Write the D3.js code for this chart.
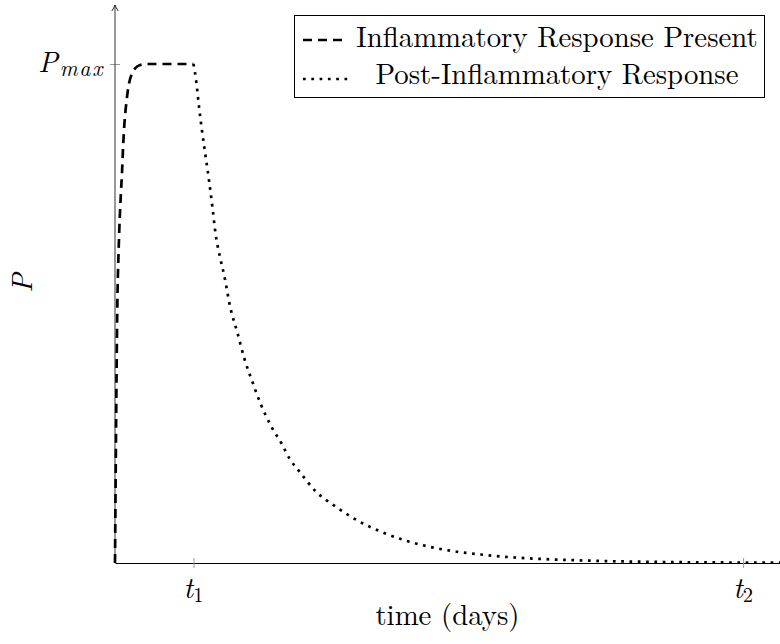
<!DOCTYPE html>
<html><head><meta charset="utf-8">
<script src="https://cdn.jsdelivr.net/npm/d3@7"></script>
<style>body{margin:0;background:#fff}svg{display:block}</style>
</head><body><svg id="c" width="780" height="644"></svg>
<script>
// ---- data (P as a fraction of P_max, t in units where t1 = 1) ----
const xTickValues = [1, 8];
const xTickSubs = ["1", "2"];
const yTickValues = [1];
const yTickSub = "max";
const seriesNames = ["Inflammatory Response Present", "Post-Inflammatory Response"];
const inflamT = [0, 0.01, 0.02, 0.03, 0.045, 0.06, 0.075, 0.09, 0.105, 0.12, 0.15, 0.18, 0.22, 0.26, 0.32, 0.4, 0.5, 1.0];
const inflamP = [0, 0.2, 0.38, 0.52, 0.62, 0.69, 0.74, 0.785, 0.84, 0.88, 0.93, 0.962, 0.982, 0.992, 0.998, 1, 1, 1];
const postT = [1.0, 1.035, 1.07, 1.11, 1.155, 1.2, 1.24, 1.28, 1.34, 1.39, 1.47, 1.56, 1.645, 1.75, 1.86, 2.0, 2.12, 2.22, 2.35, 2.56, 2.82, 3.1, 3.4, 3.7, 4.02, 4.34, 4.66, 5.09, 5.6, 6.2, 7.0, 8.0, 8.47];
const postP = [1.0, 0.965, 0.914, 0.864, 0.814, 0.764, 0.714, 0.661, 0.611, 0.577, 0.511, 0.461, 0.411, 0.363, 0.317, 0.271, 0.240, 0.210, 0.183, 0.143, 0.112, 0.084, 0.062, 0.045, 0.032, 0.023, 0.017, 0.011, 0.007, 0.004, 0.002, 0.001, 0.001];
const xLabel = "time (days)";
const yLabel = "P";
const xDomain = [0, 8.47];
const yDomain = [0, 1];

// ---- layout ----
const svg = d3.select("#c");
const FONT = '"Latin Modern Roman"';
const FS = 28.8, SUB = 20.5;
const L = 115, R = 780, B = 563, T = 64, axisTop = 5;
const x = d3.scaleLinear().domain(xDomain).range([L, R]);
const y = d3.scaleLinear().domain(yDomain).range([B, T]);

const line = d3.line().x(d => x(d[0])).y(d => y(d[1])).curve(d3.curveMonotoneX);
const inflam = inflamT.map((t, i) => [t, inflamP[i]]);
const post = postT.map((t, i) => [t, postP[i]]);

function txt(sel) { return sel.append("text").style("font-family", FONT).attr("fill", "#000"); }

// x axis
const gx = svg.append("g").attr("transform", `translate(0,${B})`)
  .call(d3.axisBottom(x).tickValues(xTickValues).tickFormat("").tickSizeOuter(0));
gx.select(".domain").attr("stroke", "#000").attr("stroke-width", 1.1);
gx.selectAll(".tick line").attr("y1", -5).attr("y2", 5).attr("stroke", "#999");

// y axis
const gy = svg.append("g").attr("transform", `translate(${L},0)`)
  .call(d3.axisLeft(y).tickValues(yTickValues).tickFormat("").tickSizeOuter(0));
gy.select(".domain").remove();
gy.selectAll(".tick line").attr("x1", -5).attr("x2", 5).attr("stroke", "#999");
svg.append("line").attr("x1", L).attr("x2", L).attr("y1", B).attr("y2", axisTop)
  .attr("stroke", "#333").attr("stroke-width", 1);
svg.append("path")
  .attr("d", `M${L-3.2},${axisTop+6} Q${L-0.8},${axisTop+2.5} ${L},${axisTop} Q${L+0.8},${axisTop+2.5} ${L+3.2},${axisTop+6}`)
  .attr("fill", "none").attr("stroke", "#222").attr("stroke-width", 1);

svg.append("path").datum(post).attr("d", line).attr("fill", "none")
  .attr("stroke", "#000").attr("stroke-width", 2.7).attr("stroke-dasharray", "2.7,5.6");
svg.append("path").datum(inflam).attr("d", line).attr("fill", "none")
  .attr("stroke", "#000").attr("stroke-width", 2.7).attr("stroke-dasharray", "9,6");

// tick labels
xTickValues.forEach((v, i) => {
  const t = txt(svg).attr("x", x(v)).attr("y", 598).attr("text-anchor", "middle");
  t.append("tspan").style("font-style", "italic").attr("font-size", FS).text("t");
  t.append("tspan").attr("font-size", SUB).attr("dy", 4).text(xTickSubs[i]);
});
yTickValues.forEach(v => {
  const t = txt(svg).attr("x", 104).attr("y", y(v) + 8).attr("text-anchor", "end")
    .style("font-style", "italic");
  t.append("tspan").attr("font-size", FS).text("P");
  t.append("tspan").attr("font-size", 22).attr("dx", 2).attr("dy", 4)
    .attr("letter-spacing", 1.6).text(yTickSub);
});

// axis labels
txt(svg).attr("x", (L + R) / 2).attr("y", 625).attr("text-anchor", "middle")
  .attr("font-size", FS).text(xLabel);
txt(svg).attr("transform", `translate(32,283) rotate(-90)`).attr("text-anchor", "middle")
  .style("font-style", "italic").attr("font-size", FS).text(yLabel);

// legend
const lg = svg.append("g");
lg.append("rect").attr("x", 294.5).attr("y", 15.5).attr("width", 470).attr("height", 82)
  .attr("fill", "#fff").attr("stroke", "#000").attr("stroke-width", 1);
const rows = [
  {name: seriesNames[0], dash: "9,6", sy: 40, by: 47},
  {name: seriesNames[1], dash: "2.7,5.6", sy: 79, by: 84}
];
rows.forEach(r => {
  lg.append("line").attr("x1", 303).attr("x2", 348).attr("y1", r.sy).attr("y2", r.sy)
    .attr("stroke", "#000").attr("stroke-width", 2.7).attr("stroke-dasharray", r.dash);
  txt(lg).attr("x", 557).attr("y", r.by).attr("text-anchor", "middle")
    .attr("font-size", FS).text(r.name);
});
</script>
</body></html>
